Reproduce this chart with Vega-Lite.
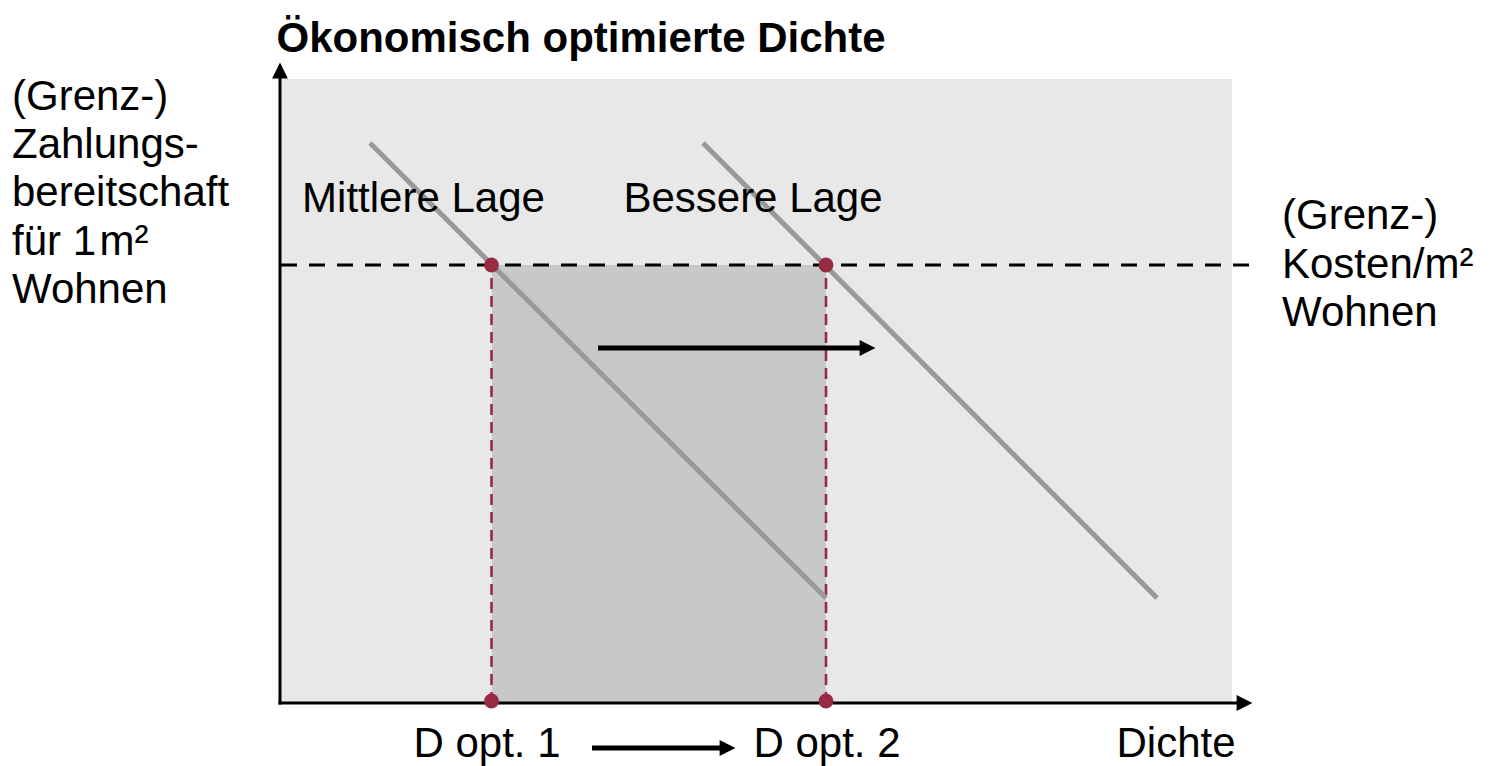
{
  "$schema": "https://vega.github.io/schema/vega-lite/v6.json",
  "width": 1492,
  "height": 766,
  "autosize": "none",
  "padding": 0,
  "background": "white",
  "config": {"view": {"stroke": null}, "text": {"font": "Liberation Sans"}},
  "datasets": {
    "rects": [
      {"part": "Hintergrund", "x": 0, "x2": 95.2, "y": 0, "y2": 62.4},
      {"part": "Optimierung", "x": 21.2, "x2": 54.6, "y": 0, "y2": 43.8}
    ],
    "segments": [
      {"kind": "achse", "x": 0, "y": -0.15, "x2": 0, "y2": 62.6},
      {"kind": "achse", "x": -0.15, "y": 0, "x2": 95.8, "y2": 0},
      {"kind": "kurve", "name": "Mittlere Lage", "x": 9.0, "y": 56.0, "x2": 54.6, "y2": 10.5},
      {"kind": "kurve", "name": "Bessere Lage", "x": 42.3, "y": 56.0, "x2": 87.7, "y2": 10.5},
      {"kind": "kosten", "x": 0.1, "y": 43.8, "x2": 97.0, "y2": 43.8},
      {"kind": "opt", "x": 21.15, "y": 0, "x2": 21.15, "y2": 43.8},
      {"kind": "opt", "x": 54.6, "y": 0, "x2": 54.6, "y2": 43.8},
      {"kind": "pfeil", "x": 31.8, "y": 35.5, "x2": 58.2, "y2": 35.5},
      {"kind": "pfeil", "x": 31.2, "y": -4.5, "x2": 44.2, "y2": -4.5}
    ],
    "heads": [
      {"dir": "oben", "x": 0, "y": 63.25},
      {"dir": "rechts", "x": 96.45, "y": 0},
      {"dir": "rechts", "x": 58.75, "y": 35.5},
      {"dir": "rechts", "x": 44.75, "y": -4.5}
    ],
    "points": [
      {"x": 21.15, "y": 43.8},
      {"x": 54.6, "y": 43.8},
      {"x": 21.15, "y": 0.2},
      {"x": 54.6, "y": 0.2}
    ],
    "labels": [
      {"group": "titel", "text": "Ökonomisch optimierte Dichte", "x": -0.35, "y": 65.1},
      {"group": "links", "text": "(Grenz-)", "x": -26.8, "y": 59.3},
      {"group": "links", "text": "Zahlungs-", "x": -26.8, "y": 54.5},
      {"group": "links", "text": "bereitschaft", "x": -26.8, "y": 49.7},
      {"group": "links", "text": "für 1\u200am²", "x": -26.8, "y": 44.8},
      {"group": "links", "text": "Wohnen", "x": -26.8, "y": 40.0},
      {"group": "links", "text": "(Grenz-)", "x": 100.2, "y": 47.4},
      {"group": "links", "text": "Kosten/m²", "x": 100.2, "y": 42.5},
      {"group": "links", "text": "Wohnen", "x": 100.2, "y": 37.7},
      {"group": "mitte", "text": "Mittlere Lage", "x": 14.35, "y": 49.1},
      {"group": "mitte", "text": "Bessere Lage", "x": 47.3, "y": 49.1},
      {"group": "mitte", "text": "D opt. 1", "x": 20.7, "y": -5.4},
      {"group": "mitte", "text": "D opt. 2", "x": 54.7, "y": -5.4},
      {"group": "mitte", "text": "Dichte", "x": 89.6, "y": -5.4}
    ]
  },
  "encoding": {
    "x": {"field": "x", "type": "quantitative", "scale": {"domain": [-28, 121.2], "nice": false, "zero": false}, "axis": null},
    "y": {"field": "y", "type": "quantitative", "scale": {"domain": [-6.3, 70.3], "nice": false, "zero": false}, "axis": null}
  },
  "layer": [
    {
      "data": {"name": "rects"},
      "mark": {"type": "rect"},
      "encoding": {
        "x2": {"field": "x2"},
        "y2": {"field": "y2"},
        "color": {"field": "part", "type": "nominal", "scale": {"domain": ["Hintergrund", "Optimierung"], "range": ["#e8e8e8", "#c8c8c8"]}, "legend": null}
      }
    },
    {
      "data": {"name": "segments"},
      "transform": [{"filter": "datum.kind === 'opt'"}],
      "mark": {"type": "rule", "color": "#972b43", "strokeWidth": 2.6, "strokeDash": [11, 7]},
      "encoding": {"x2": {"field": "x2"}, "y2": {"field": "y2"}}
    },
    {
      "data": {"name": "segments"},
      "transform": [{"filter": "datum.kind === 'kurve'"}],
      "mark": {"type": "rule", "color": "#999999", "strokeWidth": 5},
      "encoding": {"x2": {"field": "x2"}, "y2": {"field": "y2"}}
    },
    {
      "data": {"name": "segments"},
      "transform": [{"filter": "datum.kind === 'kosten'"}],
      "mark": {"type": "rule", "color": "#000000", "strokeWidth": 3, "strokeDash": [16, 12]},
      "encoding": {"x2": {"field": "x2"}, "y2": {"field": "y2"}}
    },
    {
      "data": {"name": "segments"},
      "transform": [{"filter": "datum.kind === 'achse'"}],
      "mark": {"type": "rule", "color": "#000000", "strokeWidth": 3},
      "encoding": {"x2": {"field": "x2"}, "y2": {"field": "y2"}}
    },
    {
      "data": {"name": "segments"},
      "transform": [{"filter": "datum.kind === 'pfeil'"}],
      "mark": {"type": "rule", "color": "#000000", "strokeWidth": 5},
      "encoding": {"x2": {"field": "x2"}, "y2": {"field": "y2"}}
    },
    {
      "data": {"name": "heads"},
      "mark": {"type": "point", "filled": true, "color": "#000000", "opacity": 1, "size": 250, "strokeWidth": 0},
      "encoding": {
        "shape": {"field": "dir", "type": "nominal", "scale": {"domain": ["oben", "rechts"], "range": ["M0,-1L1,1L-1,1Z", "M1,0L-1,-1L-1,1Z"]}, "legend": null}
      }
    },
    {
      "data": {"name": "points"},
      "mark": {"type": "circle", "color": "#972b43", "opacity": 1, "size": 220}
    },
    {
      "data": {"name": "labels"},
      "transform": [{"filter": "datum.group === 'titel'"}],
      "mark": {"type": "text", "align": "left", "baseline": "alphabetic", "fontSize": 42, "fontWeight": "bold", "color": "#000000"},
      "encoding": {"text": {"field": "text", "type": "nominal"}}
    },
    {
      "data": {"name": "labels"},
      "transform": [{"filter": "datum.group === 'links'"}],
      "mark": {"type": "text", "align": "left", "baseline": "alphabetic", "fontSize": 42, "color": "#000000"},
      "encoding": {"text": {"field": "text", "type": "nominal"}}
    },
    {
      "data": {"name": "labels"},
      "transform": [{"filter": "datum.group === 'mitte'"}],
      "mark": {"type": "text", "align": "center", "baseline": "alphabetic", "fontSize": 42, "color": "#000000"},
      "encoding": {"text": {"field": "text", "type": "nominal"}}
    }
  ]
}
